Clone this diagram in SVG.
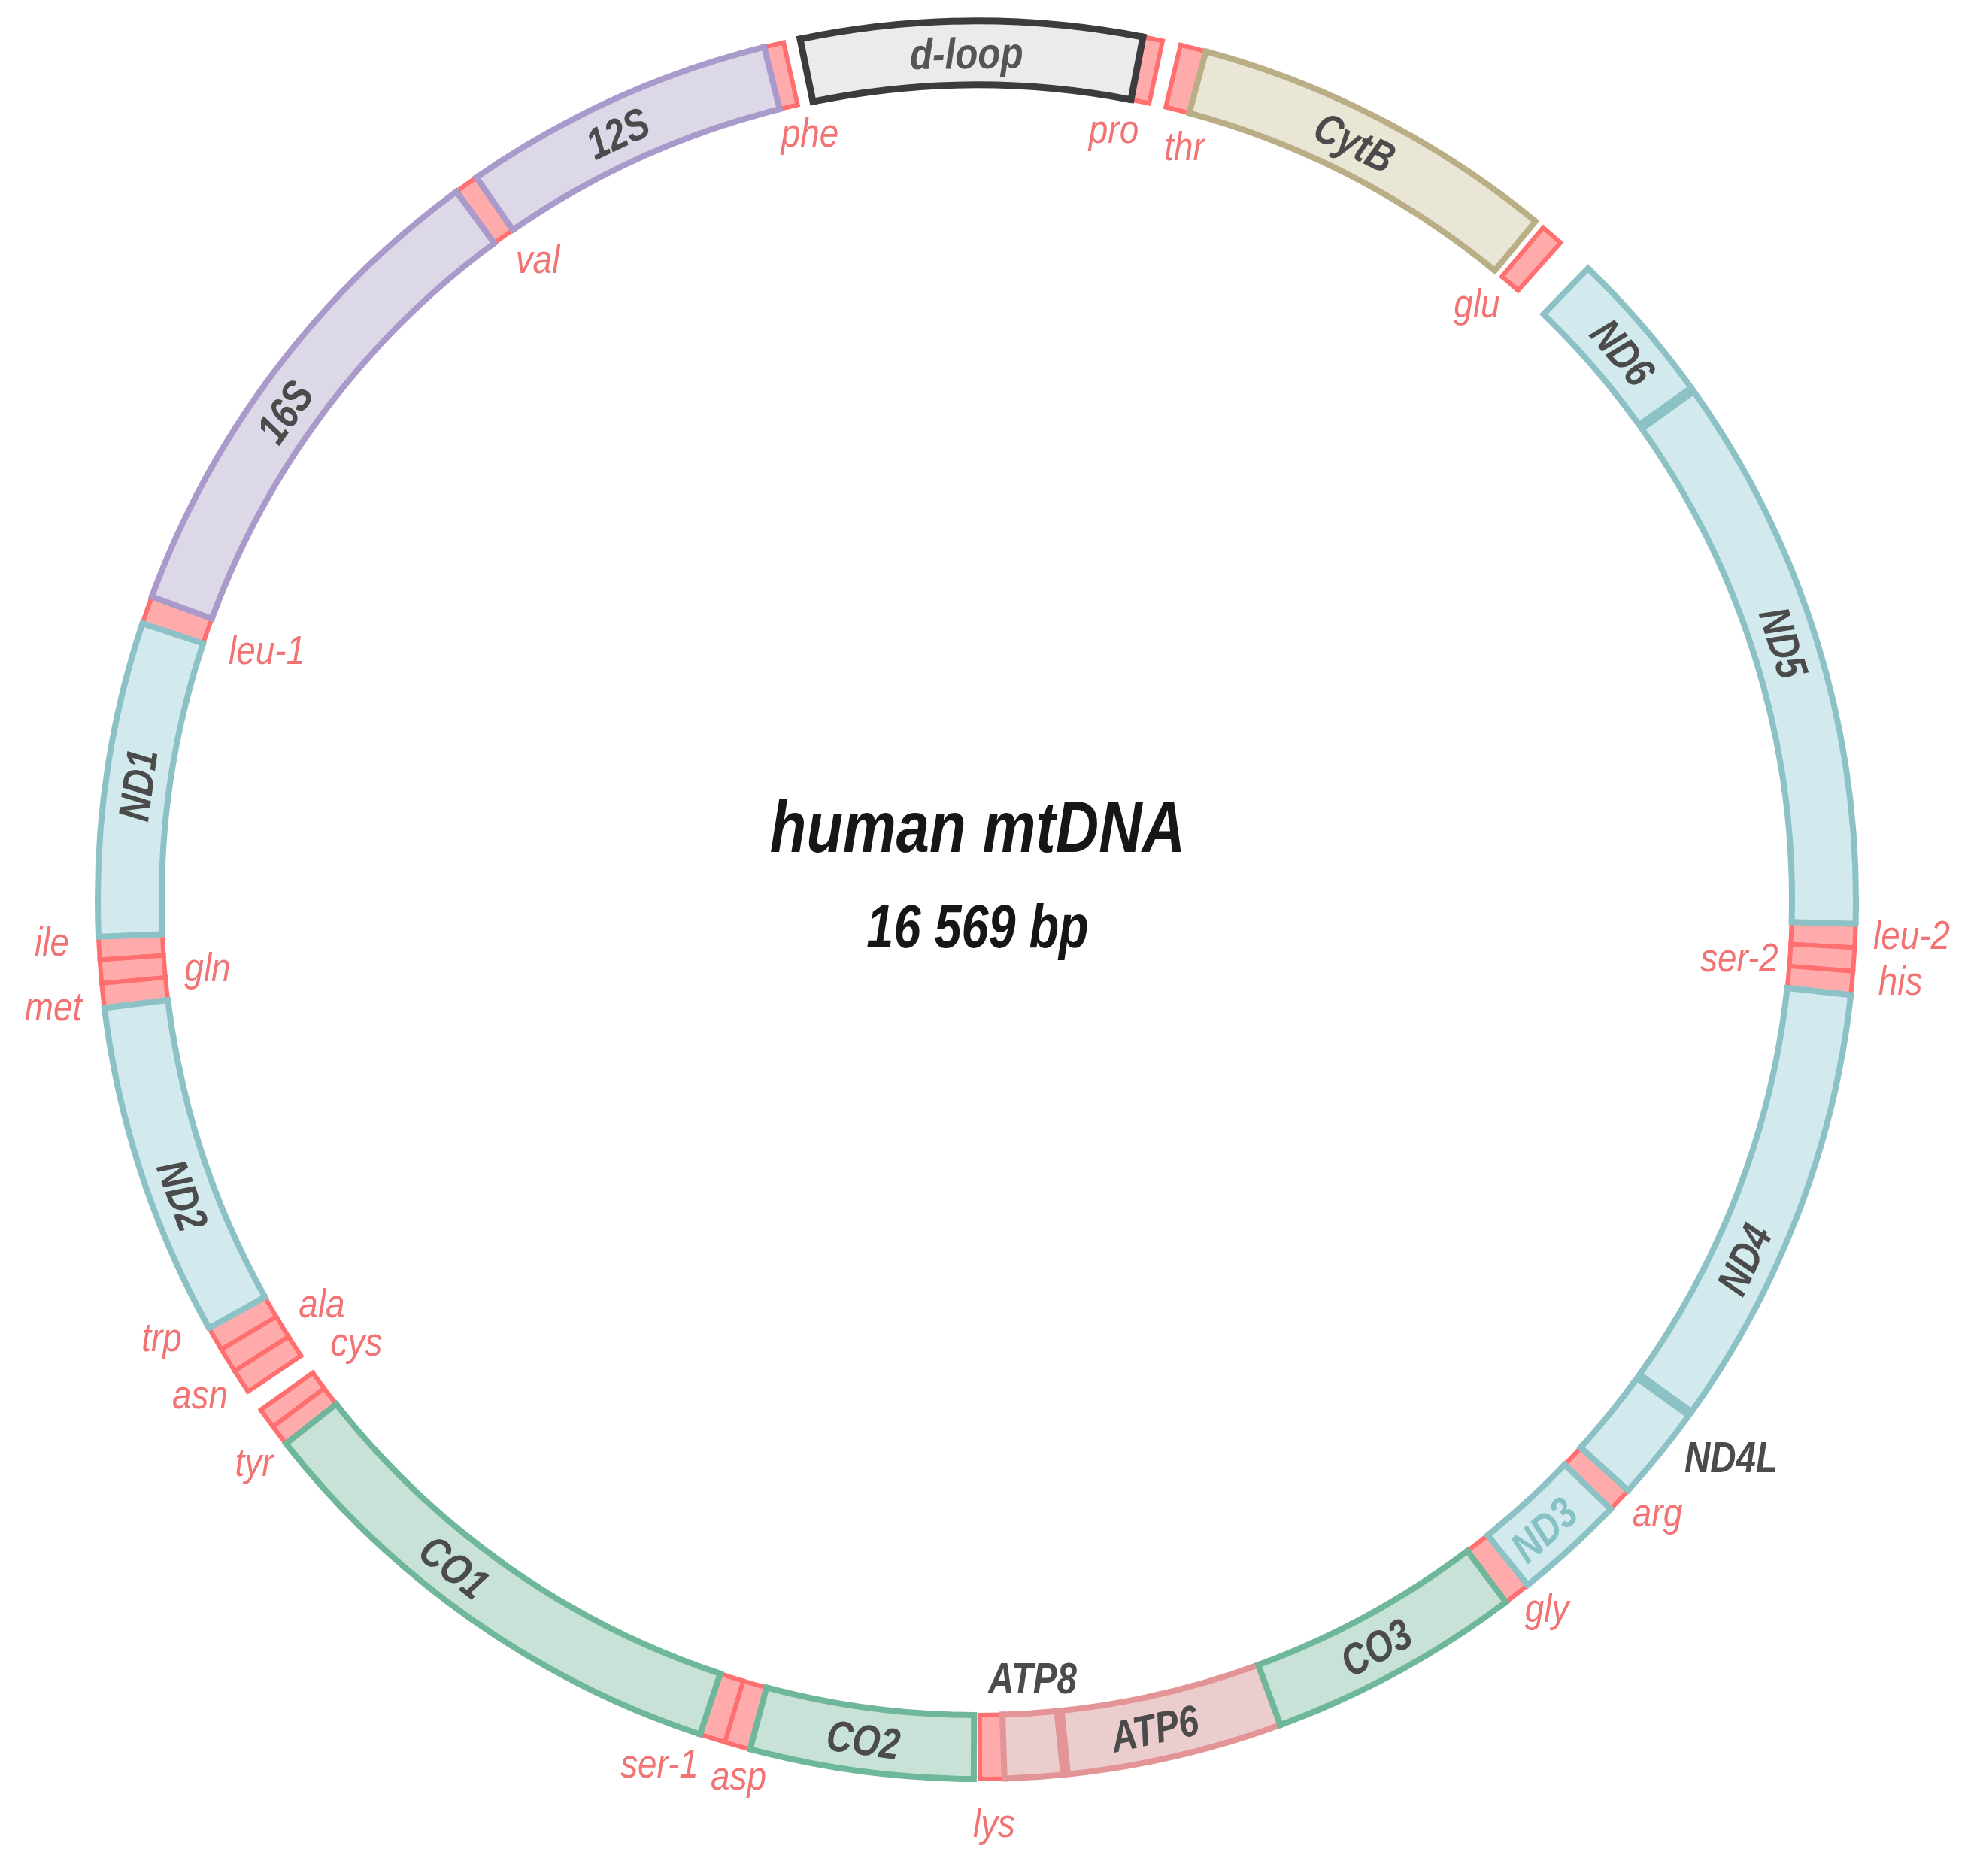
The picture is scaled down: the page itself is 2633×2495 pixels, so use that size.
<svg xmlns="http://www.w3.org/2000/svg" xmlns:xlink="http://www.w3.org/1999/xlink" width="2633" height="2495" viewBox="0 0 2633 2495">
<style>
.nd{color:#d2eaed;stroke:#8cc2c6;stroke-width:8}
.co{color:#c8e2d7;stroke:#6fb79a;stroke-width:8}
.rr{color:#ddd8e7;stroke:#a99acb;stroke-width:8}
.cb{color:#e9e6d5;stroke:#b9ae86;stroke-width:8}
.at{color:#ebcdce;stroke:#e29496;stroke-width:8}
.dl{color:#ebebeb;stroke:#3c3c3e;stroke-width:9}
.tr{color:#ffabab;stroke:#ff6f6f;stroke-width:6}
.thick{stroke-width:14}
text{font-family:"Liberation Sans",Arial,sans-serif;font-style:italic;text-anchor:middle;stroke:none}
text.g{font-weight:bold;font-size:58px;fill:#4b4b4b}
text.t{font-weight:normal;font-size:54px;fill:#f27373}
text.c1{font-weight:bold;font-size:97px;fill:#161616}
text.c2{font-weight:bold;font-size:81px;fill:#161616}
</style>
<defs>
<path id="m" d="M1299,70.5A1126.5,1126.5 0 1 1 1299,2323.5A1126.5,1126.5 0 1 1 1299,70.5" pathLength="360" fill="none" stroke="currentColor" stroke-width="85"/>
<path id="o" d="M1299,28A1169,1169 0 1 1 1299,2366A1169,1169 0 1 1 1299,28" pathLength="360" fill="none"/>
<path id="i" d="M1299,113A1084,1084 0 1 1 1299,2281A1084,1084 0 1 1 1299,113" pathLength="360" fill="none"/>
<path id="r" d="M1299,113V28" fill="none" stroke-dasharray="none" stroke-linecap="square"/>
<path id="rt" d="M1299,116V25" fill="none" stroke-dasharray="none" stroke-linecap="butt"/>
</defs>
<rect width="2633" height="2495" fill="#ffffff"/>

<g id="trnas">
<g id="trna-phe"><g class="tr" transform="rotate(-14 1299 1197)" style="stroke-dasharray:1.3 400"><use href="#m"/><use href="#o"/><use href="#i"/><use href="#r"/><use href="#r" transform="rotate(1.3 1299 1197)"/></g><text class="t" transform="translate(1077 195) scale(0.85 1)">phe</text></g>
<g id="trna-pro"><g class="tr" transform="rotate(10.8 1299 1197)" style="stroke-dasharray:1.4 400"><use href="#m"/><use href="#o"/><use href="#i"/><use href="#r"/><use href="#r" transform="rotate(1.4 1299 1197)"/></g><text class="t" transform="translate(1481 190) scale(0.85 1)">pro</text></g>
<g id="trna-thr"><g class="tr" transform="rotate(13.4 1299 1197)" style="stroke-dasharray:1.7 400"><use href="#m"/><use href="#o"/><use href="#i"/><use href="#r"/><use href="#r" transform="rotate(1.7 1299 1197)"/></g><text class="t" transform="translate(1575 213) scale(0.85 1)">thr</text></g>
<g id="trna-glu"><g class="tr" transform="rotate(40.1 1299 1197)" style="stroke-dasharray:1.5 400"><use href="#m"/><use href="#o"/><use href="#i"/><use href="#r"/><use href="#r" transform="rotate(1.5 1299 1197)"/></g><text class="t" transform="translate(1964 422) scale(0.85 1)">glu</text></g>
<g id="trna-val"><g class="tr" transform="rotate(-36.3 1299 1197)" style="stroke-dasharray:1.6 400"><use href="#m"/><use href="#o"/><use href="#i"/><use href="#r"/><use href="#r" transform="rotate(1.6 1299 1197)"/></g><text class="t" transform="translate(715 363) scale(0.85 1)">val</text></g>
<g id="trna-leu1"><g class="tr" transform="rotate(-71.65 1299 1197)" style="stroke-dasharray:1.85 400"><use href="#m"/><use href="#o"/><use href="#i"/><use href="#r"/><use href="#r" transform="rotate(1.85 1299 1197)"/></g><text class="t" transform="translate(355 883) scale(0.85 1)">leu-1</text></g>
<g id="trna-ile"><g class="tr" transform="rotate(-93.9 1299 1197)" style="stroke-dasharray:1.5 400"><use href="#m"/><use href="#o"/><use href="#i"/><use href="#r"/><use href="#r" transform="rotate(1.5 1299 1197)"/></g><text class="t" transform="translate(69 1271) scale(0.85 1)">ile</text></g>
<g id="trna-gln"><g class="tr" transform="rotate(-95.45 1299 1197)" style="stroke-dasharray:1.55 400"><use href="#m"/><use href="#o"/><use href="#i"/><use href="#r"/><use href="#r" transform="rotate(1.55 1299 1197)"/></g><text class="t" transform="translate(276 1305) scale(0.85 1)">gln</text></g>
<g id="trna-met"><g class="tr" transform="rotate(-97.05 1299 1197)" style="stroke-dasharray:1.6 400"><use href="#m"/><use href="#o"/><use href="#i"/><use href="#r"/><use href="#r" transform="rotate(1.6 1299 1197)"/></g><text class="t" transform="translate(71 1357) scale(0.85 1)">met</text></g>
<g id="trna-trp"><g class="tr" transform="rotate(-120.75 1299 1197)" style="stroke-dasharray:1.6 400"><use href="#m"/><use href="#o"/><use href="#i"/><use href="#r"/><use href="#r" transform="rotate(1.6 1299 1197)"/></g><text class="t" transform="translate(215 1797) scale(0.85 1)">trp</text></g>
<g id="trna-ala"><g class="tr" transform="rotate(-122.4 1299 1197)" style="stroke-dasharray:1.65 400"><use href="#m"/><use href="#o"/><use href="#i"/><use href="#r"/><use href="#r" transform="rotate(1.65 1299 1197)"/></g><text class="t" transform="translate(428 1752) scale(0.85 1)">ala</text></g>
<g id="trna-asn"><g class="tr" transform="rotate(-124 1299 1197)" style="stroke-dasharray:1.6 400"><use href="#m"/><use href="#o"/><use href="#i"/><use href="#r"/><use href="#r" transform="rotate(1.6 1299 1197)"/></g><text class="t" transform="translate(266 1873) scale(0.85 1)">asn</text></g>
<g id="trna-cys"><g class="tr" transform="rotate(-126.8 1299 1197)" style="stroke-dasharray:1.35 400"><use href="#m"/><use href="#o"/><use href="#i"/><use href="#r"/><use href="#r" transform="rotate(1.35 1299 1197)"/></g><text class="t" transform="translate(474 1803) scale(0.85 1)">cys</text></g>
<g id="trna-tyr"><g class="tr" transform="rotate(-128.2 1299 1197)" style="stroke-dasharray:1.4 400"><use href="#m"/><use href="#o"/><use href="#i"/><use href="#r"/><use href="#r" transform="rotate(1.4 1299 1197)"/></g><text class="t" transform="translate(338 1963) scale(0.85 1)">tyr</text></g>
<g id="trna-ser1"><g class="tr" transform="rotate(-163.35 1299 1197)" style="stroke-dasharray:1.7 400"><use href="#m"/><use href="#o"/><use href="#i"/><use href="#r"/><use href="#r" transform="rotate(1.7 1299 1197)"/></g><text class="t" transform="translate(877 2364) scale(0.85 1)">ser-1</text></g>
<g id="trna-asp"><g class="tr" transform="rotate(-165.05 1299 1197)" style="stroke-dasharray:1.7 400"><use href="#m"/><use href="#o"/><use href="#i"/><use href="#r"/><use href="#r" transform="rotate(1.7 1299 1197)"/></g><text class="t" transform="translate(982 2380) scale(0.85 1)">asp</text></g>
<g id="trna-lys"><g class="tr" transform="rotate(178.2 1299 1197)" style="stroke-dasharray:1.6 400"><use href="#m"/><use href="#o"/><use href="#i"/><use href="#r"/><use href="#r" transform="rotate(1.6 1299 1197)"/></g><text class="t" transform="translate(1322 2443) scale(0.85 1)">lys</text></g>
<g id="trna-gly"><g class="tr" transform="rotate(141.2 1299 1197)" style="stroke-dasharray:1.8 400"><use href="#m"/><use href="#o"/><use href="#i"/><use href="#r"/><use href="#r" transform="rotate(1.8 1299 1197)"/></g><text class="t" transform="translate(2057 2157) scale(0.85 1)">gly</text></g>
<g id="trna-arg"><g class="tr" transform="rotate(132.2 1299 1197)" style="stroke-dasharray:1.65 400"><use href="#m"/><use href="#o"/><use href="#i"/><use href="#r"/><use href="#r" transform="rotate(1.65 1299 1197)"/></g><text class="t" transform="translate(2204 2030) scale(0.85 1)">arg</text></g>
<g id="trna-leu2"><g class="tr" transform="rotate(91.55 1299 1197)" style="stroke-dasharray:1.55 400"><use href="#m"/><use href="#o"/><use href="#i"/><use href="#r"/><use href="#r" transform="rotate(1.55 1299 1197)"/></g><text class="t" transform="translate(2542 1262) scale(0.85 1)">leu-2</text></g>
<g id="trna-ser2"><g class="tr" transform="rotate(93.1 1299 1197)" style="stroke-dasharray:1.55 400"><use href="#m"/><use href="#o"/><use href="#i"/><use href="#r"/><use href="#r" transform="rotate(1.55 1299 1197)"/></g><text class="t" transform="translate(2313 1292) scale(0.85 1)">ser-2</text></g>
<g id="trna-his"><g class="tr" transform="rotate(94.65 1299 1197)" style="stroke-dasharray:1.55 400"><use href="#m"/><use href="#o"/><use href="#i"/><use href="#r"/><use href="#r" transform="rotate(1.55 1299 1197)"/></g><text class="t" transform="translate(2527 1323) scale(0.85 1)">his</text></g>
</g>

<g id="genes">
<g id="d-loop"><g class="dl" transform="rotate(-11.6 1299 1197)" style="stroke-dasharray:22.5 400"><use href="#m"/><use href="#o"/><use href="#i"/><use href="#r"/><use href="#r" transform="rotate(22.5 1299 1197)"/></g><text class="g" style="fill:#555555" transform="rotate(-0.7 1299 1197) translate(1299 91) scale(0.85 1)">d-loop</text></g>
<g id="rRNA-12S"><g class="rr" transform="rotate(-34.7 1299 1197)" style="stroke-dasharray:20.7 400"><use href="#m"/><use href="#o"/><use href="#i"/><use href="#r"/><use href="#r" transform="rotate(20.7 1299 1197)"/></g><text class="g" transform="rotate(-25.1 1299 1197) translate(1299 91) scale(0.82 1)">12S</text></g>
<g id="rRNA-16S"><g class="rr" transform="rotate(-69.8 1299 1197)" style="stroke-dasharray:33.5 400"><use href="#m"/><use href="#o"/><use href="#i"/><use href="#r"/><use href="#r" transform="rotate(33.5 1299 1197)"/></g><text class="g" transform="rotate(-54.8 1299 1197) translate(1299 91) scale(0.82 1)">16S</text></g>
<g id="ND1"><g class="nd" transform="rotate(-92.4 1299 1197)" style="stroke-dasharray:20.75 400"><use href="#m"/><use href="#o"/><use href="#i"/><use href="#r"/><use href="#r" transform="rotate(20.75 1299 1197)"/></g><text class="g" transform="rotate(-82.2 1299 1197) translate(1299 91) scale(0.82 1)">ND1</text></g>
<g id="ND2"><g class="nd" transform="rotate(-119.15 1299 1197)" style="stroke-dasharray:22.1 400"><use href="#m"/><use href="#o"/><use href="#i"/><use href="#r"/><use href="#r" transform="rotate(22.1 1299 1197)"/></g><text class="g" transform="rotate(69.6 1299 1197) translate(1299 2344) scale(0.82 1)">ND2</text></g>
<g id="CO1"><g class="co" transform="rotate(-161.65 1299 1197)" style="stroke-dasharray:33.45 400"><use href="#m"/><use href="#o"/><use href="#i"/><use href="#r"/><use href="#r" transform="rotate(33.45 1299 1197)"/></g><text class="g" transform="rotate(38.1 1299 1197) translate(1299 2344) scale(0.82 1)">CO1</text></g>
<g id="CO2"><g class="co" transform="rotate(-179.8 1299 1197)" style="stroke-dasharray:14.75 400"><use href="#m"/><use href="#o"/><use href="#i"/><use href="#r"/><use href="#r" transform="rotate(14.75 1299 1197)"/></g><text class="g" transform="rotate(7.7 1299 1197) translate(1299 2344) scale(0.82 1)">CO2</text></g>
<g id="ATP8"><g class="at" transform="rotate(174.2 1299 1197)" style="stroke-dasharray:4 400"><use href="#m"/><use href="#o"/><use href="#i"/><use href="#rt" class="thick"/><use href="#r" transform="rotate(4 1299 1197)"/></g><text class="g" transform="translate(1373 2252) scale(0.82 1)">ATP8</text></g>
<g id="ATP6"><g class="at" transform="rotate(159.8 1299 1197)" style="stroke-dasharray:14.4 400"><use href="#m"/><use href="#o"/><use href="#i"/><use href="#r"/><use href="#rt" class="thick" transform="rotate(14.4 1299 1197)"/></g><text class="g" transform="rotate(-12.1 1299 1197) translate(1299 2344) scale(0.82 1)">ATP6</text></g>
<g id="CO3"><g class="co" transform="rotate(143 1299 1197)" style="stroke-dasharray:16.8 400"><use href="#m"/><use href="#o"/><use href="#i"/><use href="#r"/><use href="#r" transform="rotate(16.8 1299 1197)"/></g><text class="g" transform="rotate(-28.1 1299 1197) translate(1299 2344) scale(0.82 1)">CO3</text></g>
<g id="ND3"><g class="nd" transform="rotate(133.85 1299 1197)" style="stroke-dasharray:7.35 400"><use href="#m"/><use href="#o"/><use href="#i"/><use href="#r"/><use href="#r" transform="rotate(7.35 1299 1197)"/></g><text class="g" style="fill:#86c1c5" transform="rotate(-42 1299 1197) translate(1299 2344) scale(0.82 1)">ND3</text></g>
<g id="ND4L"><g class="nd" transform="rotate(125.75 1299 1197)" style="stroke-dasharray:6.45 400"><use href="#m"/><use href="#o"/><use href="#i"/><use href="#rt" class="thick"/><use href="#r" transform="rotate(6.45 1299 1197)"/></g><text class="g" transform="translate(2302 1958) scale(0.82 1)">ND4L</text></g>
<g id="ND4"><g class="nd" transform="rotate(96.2 1299 1197)" style="stroke-dasharray:29.55 400"><use href="#m"/><use href="#o"/><use href="#i"/><use href="#r"/><use href="#rt" class="thick" transform="rotate(29.55 1299 1197)"/></g><text class="g" transform="rotate(-64.9 1299 1197) translate(1299 2344) scale(0.82 1)">ND4</text></g>
<g id="ND5"><g class="nd" transform="rotate(54.5 1299 1197)" style="stroke-dasharray:37.05 400"><use href="#m"/><use href="#o"/><use href="#i"/><use href="#rt" class="thick"/><use href="#r" transform="rotate(37.05 1299 1197)"/></g><text class="g" transform="rotate(72.3 1299 1197) translate(1299 91) scale(0.82 1)">ND5</text></g>
<g id="ND6"><g class="nd" transform="rotate(44.05 1299 1197)" style="stroke-dasharray:10.45 400"><use href="#m"/><use href="#o"/><use href="#i"/><use href="#r"/><use href="#rt" class="thick" transform="rotate(10.45 1299 1197)"/></g><text class="g" transform="rotate(49.7 1299 1197) translate(1299 91) scale(0.82 1)">ND6</text></g>
<g id="CytB"><g class="cb" transform="rotate(15.1 1299 1197)" style="stroke-dasharray:24.35 400"><use href="#m"/><use href="#o"/><use href="#i"/><use href="#r"/><use href="#r" transform="rotate(24.35 1299 1197)"/></g><text class="g" transform="rotate(26.5 1299 1197) translate(1299 91) scale(0.82 1)">CytB</text></g>
</g>

<g id="title">
<text class="c1" transform="translate(1300 1133) scale(0.82 1)">human mtDNA</text>
<text class="c2" transform="translate(1300 1260) scale(0.8 1)">16 569 bp</text>
</g>
</svg>
